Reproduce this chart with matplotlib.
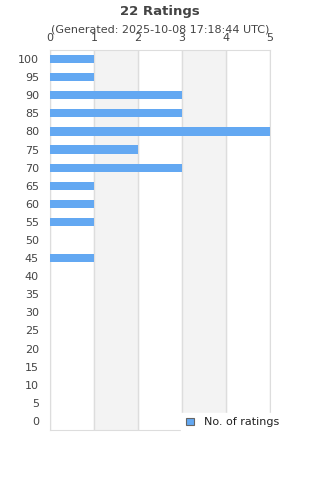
#ratings histogram, horizontal bars

import matplotlib.pyplot as plt
import numpy as np

scores = [100, 95, 90, 85, 80, 75, 70, 65, 60, 55, 50, 45, 40, 35, 30, 25, 20, 15, 10, 5, 0]
counts = [1, 1, 3, 3, 5, 2, 3, 1, 1, 1, 0, 1, 0, 0, 0, 0, 0, 0, 0, 0, 0]
x_ticks = [0, 1, 2, 3, 4, 5]

text_color = '#444444'
bar_color = '#63a8f2'
grid_color = '#dddddd'

fig = plt.figure(figsize=(3.2, 4.8), dpi=100)
ax = fig.add_axes([50/320, 50/480, 220/320, 380/480])

y = np.arange(len(scores))
ax.barh(y, counts, height=0.45, color=bar_color, zorder=3, label='No. of ratings')

# alternating bands
for i in range(0, len(x_ticks) - 1):
	if i % 2 == 1:
		ax.axvspan(x_ticks[i], x_ticks[i+1], color='#f3f3f3', zorder=0)
for t in x_ticks:
	ax.axvline(t, color=grid_color, linewidth=1, zorder=1)

ax.set_xlim(0, 5)
ax.set_ylim(len(scores) - 0.5, -0.5)
ax.set_yticks(y)
ax.set_yticklabels([str(s) for s in scores])
ax.set_xticks(x_ticks)
ax.xaxis.tick_top()
ax.tick_params(axis='both', length=0, labelsize=8, colors=text_color)
ax.tick_params(axis='y', pad=8)
ax.tick_params(axis='x', pad=5)
for s in ax.spines.values():
	s.set_color(grid_color)

fig.text(0.5, 1 - 11/480, '22 Ratings', ha='center', va='center', fontsize=9.5, fontweight='bold', color=text_color)
fig.text(0.5, 1 - 30/480, '(Generated: 2025-10-08 17:18:44 UTC)', ha='center', va='center', fontsize=8, color=text_color)

leg = ax.legend(loc='lower right', bbox_to_anchor=(1.06, -0.005), fontsize=8, frameon=True, fancybox=False,
	handlelength=0.7, handleheight=0.7, borderpad=0.4, handletextpad=0.9, borderaxespad=0)
leg.get_frame().set_edgecolor('white')
leg.get_frame().set_alpha(1)
for h in leg.legend_handles:
	h.set_edgecolor('#666666')
	h.set_linewidth(0.8)
for t in leg.get_texts():
	t.set_color('#222222')
leg.set_zorder(5)

plt.savefig('out.png', dpi=100)
